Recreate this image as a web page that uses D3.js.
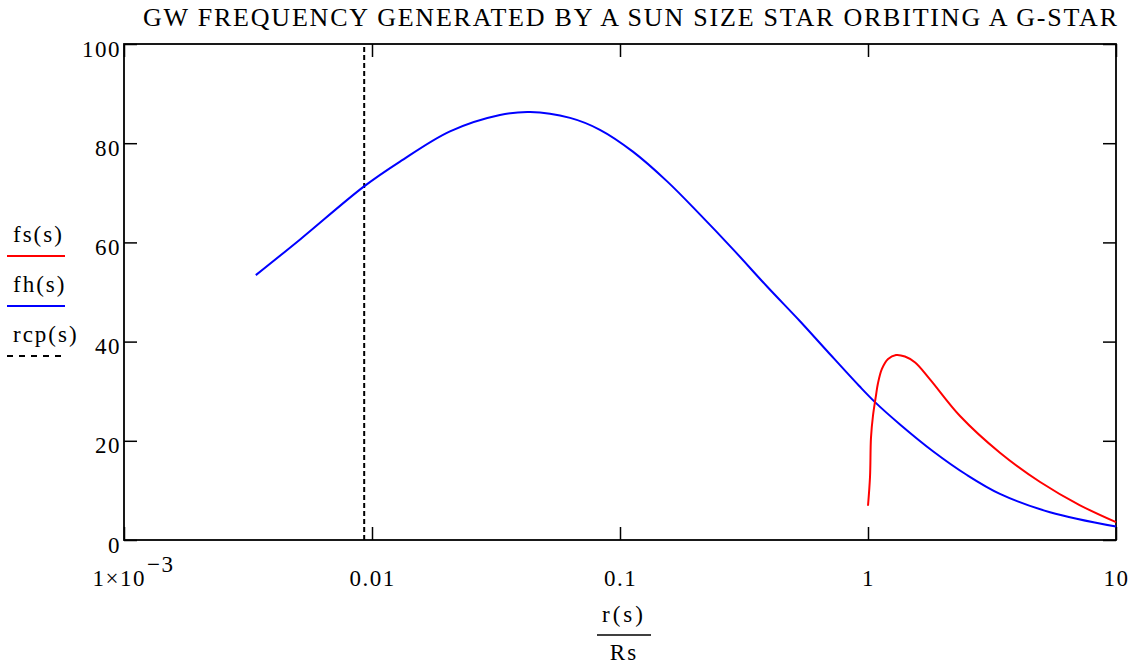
<html>
  <head>
    <meta charset="utf-8">
    <script src="https://d3js.org/d3.v7.min.js"></script>
    <style>
      body { margin: 0px; background: #fff; }
      svg text { font-family: "Liberation Serif", "Times New Roman", serif; fill: #000; }
      .axis .domain { display: none; }
      .axis .tick line { stroke: #000; stroke-width: 1.5; }
      .axis .tick text { font-size: 23px; letter-spacing: 1.5px; }
      .leg { font-size: 23px; letter-spacing: 2px; }
    </style>
  </head>
  <body>
    <svg width="1144" height="669" font-family="Liberation Serif"></svg>
    <script>
      // r(s)/Rs and frequency values
      var fhR = [0.0034, 0.00513, 0.00929, 0.01297, 0.02063, 0.0328, 0.0434, 0.0629, 0.083,
                 0.1127, 0.1549, 0.2104, 0.2858, 0.3917, 0.532, 0.684, 0.92, 1.067, 1.346,
                 1.828, 2.506, 3.404, 5.42, 10];
      var fhF = [53.4, 60.6, 71.3, 76.3, 82.4, 85.7, 86.3, 85.1, 82.7,
                 78.3, 72.3, 65.6, 58.6, 51.1, 44.1, 38.1, 31.1, 27.8, 23.3,
                 17.9, 13.1, 9.3, 5.6, 2.7];
      var fsR = [1.0, 1.019, 1.028, 1.047, 1.076, 1.096, 1.138, 1.205, 1.297, 1.409, 1.549,
                 1.778, 2.35, 3.404, 4.943, 7.161, 10];
      var fsF = [6.9, 12.8, 20.6, 25.0, 29.0, 31.5, 34.5, 36.5, 37.3, 37.0, 35.8,
                 32.4, 25.0, 17.6, 11.7, 7.0, 3.6];
      var rcpR = 0.0093;

      var xTicks = [0.001, 0.01, 0.1, 1, 10];
      var yTicks = [0, 20, 40, 60, 80, 100];
      var xLabels = ['1×10', '0.01', '0.1', '1', '10'];
      var title = 'GW FREQUENCY GENERATED BY A SUN SIZE STAR ORBITING A G-STAR';
      var legendNames = ['fs(s)', 'fh(s)', 'rcp(s)'];

      var svg = d3.select('svg');
      var mLeft = 124, mRight = 1116, mTop = 44, mBottom = 540;

      var x = d3.scaleLog().domain([0.001, 10]).range([mLeft, mRight]);
      var y = d3.scaleLinear().domain([0, 100]).range([mBottom, mTop]);

      var line = d3.line()
        .x(d => x(d[0]))
        .y(d => y(d[1]))
        .curve(d3.curveCatmullRom.alpha(0.5));

      // frame
      svg.append('rect')
        .attr('x', mLeft).attr('y', mTop)
        .attr('width', mRight - mLeft).attr('height', mBottom - mTop)
        .attr('fill', 'none').attr('stroke', '#000').attr('stroke-width', 1.8);

      // axes with inward ticks
      var gyl = svg.append('g').attr('class', 'axis')
        .attr('transform', `translate(${mLeft},0)`)
        .call(d3.axisLeft(y).tickValues(yTicks).tickSize(-13).tickPadding(3));
      gyl.selectAll('.tick text').attr('dy', '12');
      svg.append('g').attr('class', 'axis')
        .attr('transform', `translate(${mRight},0)`)
        .call(d3.axisRight(y).tickValues(yTicks).tickSize(-13).tickFormat(''));

      var gxb = svg.append('g').attr('class', 'axis')
        .attr('transform', `translate(0,${mBottom})`)
        .call(d3.axisBottom(x).tickValues(xTicks).tickSize(-13).tickPadding(0)
          .tickFormat((d, i) => xLabels[i]));
      gxb.selectAll('.tick text').attr('y', 46).attr('dy', 0);
      gxb.selectAll('.tick').filter(d => d === 0.001).select('text')
        .attr('text-anchor', 'start').attr('x', -32)
        .append('tspan').attr('dy', -14).attr('dx', 1).text('−3');
      svg.append('g').attr('class', 'axis')
        .attr('transform', `translate(0,${mTop})`)
        .call(d3.axisTop(x).tickValues(xTicks).tickSize(-13).tickFormat(''));

      // rcp dashed line
      svg.append('line')
        .attr('x1', x(rcpR)).attr('x2', x(rcpR))
        .attr('y1', y(0)).attr('y2', y(100))
        .attr('stroke', '#000').attr('stroke-width', 2)
        .attr('stroke-dasharray', '5,3');

      svg.append('path')
        .datum(d3.zip(fhR, fhF))
        .attr('d', line)
        .attr('fill', 'none').attr('stroke', '#0000ff').attr('stroke-width', 2);

      svg.append('path')
        .datum(d3.zip(fsR, fsF))
        .attr('d', line)
        .attr('fill', 'none').attr('stroke', '#ff0000').attr('stroke-width', 2);

      // title
      svg.append('text')
        .attr('x', 143).attr('y', 26)
        .attr('textLength', 974).attr('lengthAdjust', 'spacing')
        .style('font-size', '26px')
        .text(title);

      // legend
      var legColors = ['#ff0000', '#0000ff', '#000'];
      legendNames.forEach(function (name, i) {
        var by = 242 + i * 50;
        svg.append('text').attr('class', 'leg').attr('x', 13).attr('y', by).text(name);
        svg.append('line')
          .attr('x1', 7).attr('x2', 65).attr('y1', by + 14).attr('y2', by + 14)
          .attr('stroke', legColors[i]).attr('stroke-width', 2)
          .attr('stroke-dasharray', i === 2 ? '6,6' : null);
      });

      // x axis label as a fraction
      svg.append('text').attr('class', 'leg').attr('x', 624).attr('y', 622)
        .attr('text-anchor', 'middle').style('letter-spacing', '3px').text('r(s)');
      svg.append('line').attr('x1', 597).attr('x2', 651).attr('y1', 635).attr('y2', 635)
        .attr('stroke', '#000').attr('stroke-width', 1.5);
      svg.append('text').attr('class', 'leg').attr('x', 624).attr('y', 660)
        .attr('text-anchor', 'middle').text('Rs');
    </script>
  </body>
</html>
